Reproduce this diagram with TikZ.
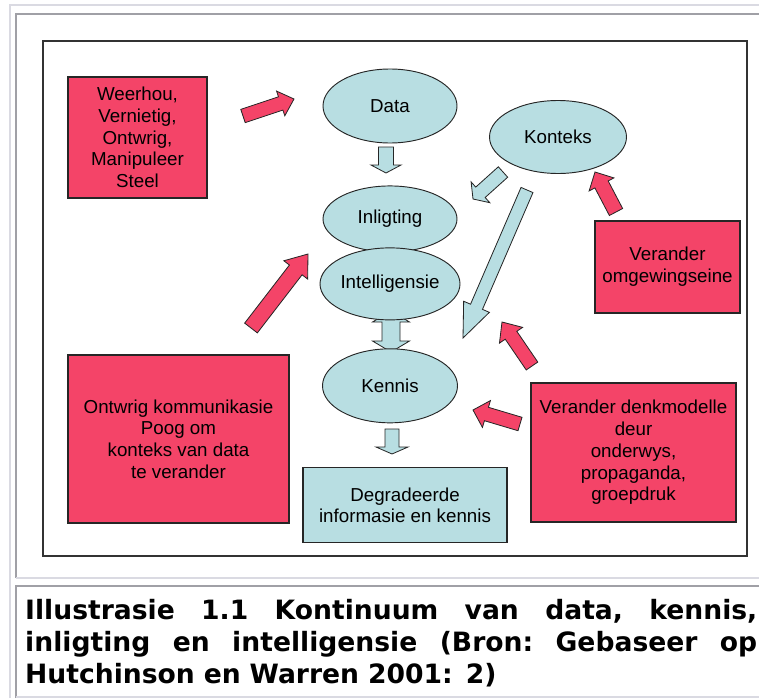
\documentclass[tikz,border=0pt]{standalone}
\usepackage{fontspec}
\setmainfont{Liberation Sans}
\newfontfamily\capfont{DejaVu Sans}
\usetikzlibrary{calc, positioning, shapes.geometric}
\definecolor{roosrooi}{RGB}{244,68,104}
\definecolor{ligblou}{RGB}{184,222,226}
\definecolor{raamgrys}{RGB}{160,160,166}
\definecolor{ligtgrys}{RGB}{218,218,226}
\newlength\capw
\setlength\capw{219.6mm}
\tikzset{
  ba shaft/.store in=\bashaft, % breedte van die pylskag
  ba head/.store in=\bahead, % breedte van die pylkop
  ba len/.store in=\balen, % lengte van die pylkop
  ba shaft=4mm, ba head=8mm, ba len=4mm,
  blockarrow/.style={draw=black!85, line width=0.7pt, line join=miter,
    to path={let \p1=(\tikztostart), \p2=(\tikztotarget),
      \n1={atan2(\y2-\y1,\x2-\x1)},
      \n2={veclen(\x2-\x1,\y2-\y1)-\balen} in
      ($(\p1)+({\n1+90}:{\bashaft/2})$)
      -- ($(\p1)+(\n1:\n2)+({\n1+90}:{\bashaft/2})$)
      -- ($(\p1)+(\n1:\n2)+({\n1+90}:{\bahead/2})$)
      -- (\p2)
      -- ($(\p1)+(\n1:\n2)+({\n1-90}:{\bahead/2})$)
      -- ($(\p1)+(\n1:\n2)+({\n1-90}:{\bashaft/2})$)
      -- ($(\p1)+({\n1-90}:{\bashaft/2})$) -- cycle}},
  dblockarrow/.style={draw=black!85, line width=0.7pt, line join=miter,
    to path={let \p1=(\tikztostart), \p2=(\tikztotarget),
      \n1={atan2(\y2-\y1,\x2-\x1)} in
      (\p1)
      -- ($(\p1)+(\n1:\balen)+({\n1+90}:{\bahead/2})$)
      -- ($(\p1)+(\n1:\balen)+({\n1+90}:{\bashaft/2})$)
      -- ($(\p2)+({\n1+180}:\balen)+({\n1+90}:{\bashaft/2})$)
      -- ($(\p2)+({\n1+180}:\balen)+({\n1+90}:{\bahead/2})$)
      -- (\p2)
      -- ($(\p2)+({\n1+180}:\balen)+({\n1-90}:{\bahead/2})$)
      -- ($(\p2)+({\n1+180}:\balen)+({\n1-90}:{\bashaft/2})$)
      -- ($(\p1)+(\n1:\balen)+({\n1-90}:{\bashaft/2})$)
      -- ($(\p1)+(\n1:\balen)+({\n1-90}:{\bahead/2})$) -- cycle}},
  rooipyl/.style={blockarrow, fill=roosrooi},
  bloupyl/.style={blockarrow, fill=ligblou},
  rooiblok/.style={draw=black!85, line width=0.9pt, fill=roosrooi, align=center,
    inner sep=0pt, font=\fontsize{16}{18.6}\selectfont},
  bloublok/.style={draw=black!85, line width=0.9pt, fill=ligblou, align=center,
    inner sep=0pt, font=\fontsize{16}{18.6}\selectfont},
  ovaal/.style={ellipse, draw=black!85, line width=0.8pt, fill=ligblou,
    inner sep=0pt, font=\fontsize{16}{18.6}\selectfont},
}
\begin{document}
\begin{tikzpicture}[x=0.3mm, y=-0.3mm]
  \useasboundingbox (0,0) rectangle (759,698);
  % rame van die tabel
  \draw[ligtgrys, line width=1.2pt] (10,698) -- (10,5) -- (759,5);
  \draw[raamgrys, line width=1.5pt] (16,578) -- (16,14) -- (759,14);
  \draw[ligtgrys, line width=1.5pt] (16,578) -- (759,578);
  \draw[raamgrys, line width=1.5pt] (16,698) -- (16,586) -- (759,586);
  \draw[ligtgrys, line width=1.5pt] (16,697) -- (759,697);
  % raam van die diagram
  \draw[black!80, line width=1.3pt] (43,41) rectangle (747,556);

  % dubbelpyl agter die ovale
  \coordinate (dbo) at (391,311);
  \coordinate (dbu) at (391,352);
  \draw[dblockarrow, fill=ligblou, ba shaft=5.4mm, ba head=11.1mm, ba len=3.3mm] (dbo) to (dbu);

  \node[ovaal, minimum width=40.2mm, minimum height=22.2mm] (data) at (390,106) {Data};
  \node[ovaal, minimum width=40.2mm, minimum height=19.8mm, below=12.6mm of data] (inligting) {Inligting};
  \node[ovaal, minimum width=40.2mm, minimum height=21.6mm, below=-1.5mm of inligting] (intelligensie) {Intelligensie};
  \node[ovaal, minimum width=40.5mm, minimum height=22.2mm, below=8.4mm of intelligensie] (kennis) {Kennis};
  \node[ovaal, minimum width=41.1mm, minimum height=21.9mm] (konteks) at (558,137) {Konteks};
  \node[bloublok, minimum width=61.2mm, minimum height=22.5mm, below=13.2mm of kennis, xshift=4.5mm] (degradeer) {Degradeerde\\informasie en kennis};

  \node[rooiblok, minimum width=41.7mm, minimum height=36.3mm] (weerhou) at (137.5,137.5) {Weerhou,\\Vernietig,\\Ontwrig,\\Manipuleer\\Steel};
  \node[rooiblok, minimum width=43.5mm, minimum height=27.6mm] (omgewing) at (667.5,267) {Verander\\omgewingseine};
  \node[rooiblok, minimum width=66.3mm, minimum height=50.4mm] (ontwrig) at (178.5,439) {Ontwrig kommunikasie\\Poog om\\konteks van data\\te verander};
  \node[rooiblok, minimum width=61.5mm, minimum height=41.7mm] (denk) at (633.5,452.5) {Verander denkmodelle\\deur\\onderwys,\\propaganda,\\groepdruk};

  % blokpyle
  \coordinate (b1s) at (386,147);  \coordinate (b1e) at (386,173);
  \coordinate (b3s) at (392,429);  \coordinate (b3e) at (392,454);
  \coordinate (b4s) at (503,172);  \coordinate (b4e) at (473,199);
  \coordinate (b5s) at (527,190);  \coordinate (b5e) at (463,338);
  \coordinate (r1s) at (243,116);  \coordinate (r1e) at (294,99);
  \coordinate (r2s) at (616,212);  \coordinate (r2e) at (595,172);
  \coordinate (r3s) at (251,328);  \coordinate (r3e) at (308,254);
  \coordinate (r4s) at (532,366);  \coordinate (r4e) at (502,322);
  \coordinate (r5s) at (520,424);  \coordinate (r5e) at (473,410);
  \draw[bloupyl, ba shaft=4.5mm, ba head=9mm, ba len=2.4mm] (b1s) to (b1e);
  \draw[bloupyl, ba shaft=4.2mm, ba head=9.6mm, ba len=2.1mm] (b3s) to (b3e);
  \draw[bloupyl, ba shaft=4.2mm, ba head=8.4mm, ba len=3mm] (b4s) to (b4e);
  \draw[bloupyl, ba shaft=3.9mm, ba head=8.4mm, ba len=10.2mm] (b5s) to (b5e);
  \draw[rooipyl, ba shaft=4.2mm, ba head=7.8mm, ba len=4.2mm] (r1s) to (r1e);
  \draw[rooipyl, ba shaft=4.5mm, ba head=8.4mm, ba len=4.2mm] (r2s) to (r2e);
  \draw[rooipyl, ba shaft=4.8mm, ba head=9mm, ba len=6mm] (r3s) to (r3e);
  \draw[rooipyl, ba shaft=4.2mm, ba head=8.4mm, ba len=4.8mm] (r4s) to (r4e);
  \draw[rooipyl, ba shaft=4.2mm, ba head=8.4mm, ba len=4.2mm] (r5s) to (r5e);

  % onderskrif
  \node[anchor=base west, inner sep=0pt, text width=\capw, align=left,
    font=\capfont\bfseries\fontsize{22.7}{27.7}\selectfont] (onderskrif) at (25,619)
    {\makebox[\capw]{Illustrasie\hfill 1.1\hfill Kontinuum\hfill van\hfill data,\hfill kennis,}\\
     \makebox[\capw]{inligting\hfill en\hfill intelligensie\hfill (Bron:\hfill Gebaseer\hfill op}\\
     Hutchinson en Warren 2001: 2)};
\end{tikzpicture}
\end{document}
